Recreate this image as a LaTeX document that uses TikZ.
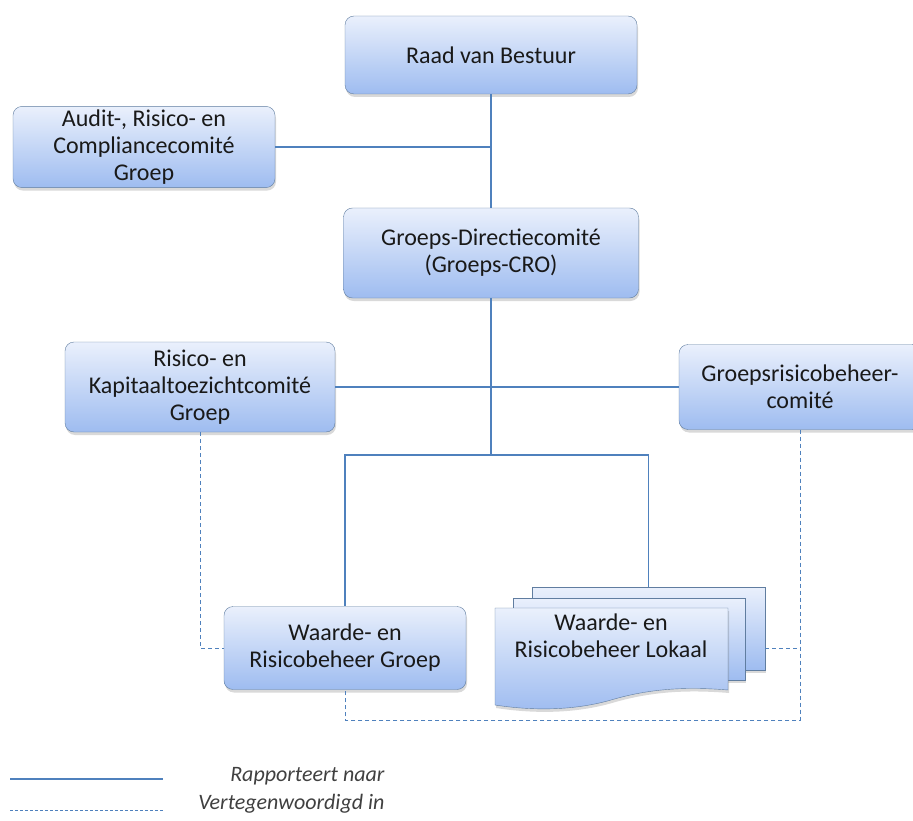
\documentclass[tikz,border=0pt]{standalone}
\usepackage{fontspec}
\setmainfont{Carlito}
\usetikzlibrary{positioning,shadows,calc}

\definecolor{boxline}{RGB}{96,125,160}
\definecolor{boxtop}{RGB}{234,240,252}
\definecolor{boxbottom}{RGB}{158,188,240}
\definecolor{linkblue}{RGB}{79,129,189}

\begin{document}
\begin{tikzpicture}[
    x=1pt, y=-1pt,
    orgbox/.style={draw=boxline, rounded corners=9pt, top color=boxtop, bottom color=boxbottom,
        align=center, font=\fontsize{24}{27}\selectfont, text=black!90,
        drop shadow={shadow xshift=1pt, shadow yshift=-3pt, opacity=0.3}},
    pagebox/.style={draw=boxline, top color=boxtop, bottom color=boxbottom,
        drop shadow={shadow xshift=1pt, shadow yshift=-3pt, opacity=0.3}},
    reportline/.style={linkblue, line width=1.1pt},
    repline/.style={linkblue, line width=1pt, dashed, dash pattern=on 4pt off 3pt},
    legendtext/.style={font=\fontsize{22}{24}\selectfont\itshape, text=black!75, anchor=east}
]
\clip (0,0) rectangle (913,821);

% Top of the structure
\node[orgbox, minimum width=292, minimum height=78] (raad) at (491,55) {Raad van Bestuur};
\node[orgbox, minimum width=262, minimum height=81] (audit) at (144,147)
    {Audit-, Risico- en\\Compliancecomité\\Groep};
\node[orgbox, minimum width=295, minimum height=90] (directie) at (491,253)
    {Groeps-Directiecomité\\(Groeps-CRO)};

% Committees
\node[orgbox, minimum width=270, minimum height=90] (kapitaal) at (200,387)
    {Risico- en\\Kapitaaltoezichtcomité\\Groep};
\node[orgbox, minimum width=242, minimum height=85] (beheer) at (800,387)
    {Groepsrisicobeheer-\\comité};

% Waarde- en Risicobeheer
\node[orgbox, minimum width=242, minimum height=83] (waardegroep) at (345,648)
    {Waarde- en\\Risicobeheer Groep};

% local stack of pages
\node[pagebox, minimum width=233, minimum height=83] (lokaalC) at (648.5,628.5) {};
\node[pagebox, minimum width=232, minimum height=82] (lokaalB) at (629,639) {};
\path[pagebox]
    (495,608) -- (728,608) -- (728,690)
    .. controls (680,686) and (645,690) .. (611,700)
    .. controls (580,709) and (540,712) .. (495,705) -- cycle;
\node[align=center, font=\fontsize{24}{27}\selectfont, text=black!90] (lokaal) at (611,636)
    {Waarde- en\\Risicobeheer Lokaal};

% Rapporteert naar
\coordinate (split) at (491,455);
\draw[reportline] (raad) -- (directie);
\draw[reportline] (audit.east) -- (audit.east -| raad.south);
\draw[reportline] (kapitaal.east) -- (beheer.west);
\draw[reportline] (directie) -- (split);
\draw[reportline] (split) -| (waardegroep.north);
\draw[reportline] (split) -| (lokaalC.north);

% Vertegenwoordigd in
\coordinate (dashbase) at (345,720);
\draw[repline] (kapitaal.south) |- (waardegroep.west);
\draw[repline] (beheer.south) |- (dashbase) -- (waardegroep.south);
\draw[repline] (lokaalC.east |- waardegroep.center) -- (waardegroep.center -| beheer.south);

% Legend
\draw[reportline] (10,779) -- (163,779);
\draw[repline, line width=0.7pt, dash pattern=on 3pt off 2pt] (10,810) -- (163,810);
\node[legendtext] (legrap) at (388,776) {Rapporteert naar};
\node[legendtext] (legver) at (388,804) {Vertegenwoordigd in};
\end{tikzpicture}
\end{document}
